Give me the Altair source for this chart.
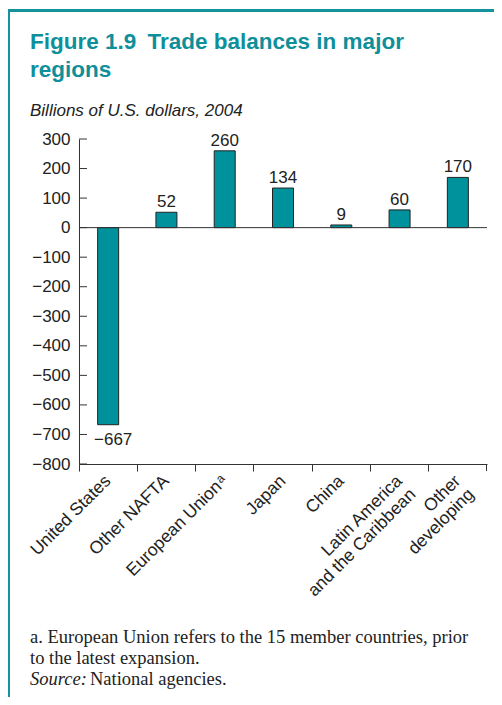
import altair as alt
import pandas as pd

categories = ["United States", "Other NAFTA", "European Union\u200a\u1d43", "Japan", "China",
              "Latin America\nand the Caribbean", "Other\ndeveloping"]
balances = [-667, 52, 260, 134, 9, 60, 170]
labels = ["\u2212667", "52", "260", "134", "9", "60", "170"]
y_ticks = [300, 200, 100, 0, -100, -200, -300, -400, -500, -600, -700, -800]

TEAL = "#00929c"
W, H = 408, 325

df = pd.DataFrame({"region": categories, "value": balances, "label": labels})

xaxis = alt.Axis(title=None, bandPosition=0, labelAngle=-45, labelAlign="right",
                 labelBaseline="middle", labelFontSize=17.5, labelFont="Liberation Sans",
                 labelColor="#222", labelPadding=7, tickSize=7, tickColor="#333",
                 domainColor="#333", labelExpr="split(datum.label, '\\n')",
                 labelLineHeight=19, labelOverlap=False, grid=False)
xscale = alt.Scale(paddingInner=0, paddingOuter=0)
yscale = alt.Scale(domain=[-800, 300], nice=False, zero=False)
yaxis = alt.Axis(title=None, values=y_ticks, ticks=False, tickSize=0, labelPadding=9,
                 labelFontSize=17, labelFont="Liberation Sans", labelColor="#222",
                 labelOverlap=False, domainColor="#333", grid=False)

def X(f): return alt.X(f, sort=None, scale=xscale, axis=xaxis)
def Y(f): return alt.Y(f, scale=yscale, axis=yaxis)

bars = alt.Chart(df).mark_bar(width=21, color=TEAL, stroke="#222", strokeWidth=1).encode(
    x=X("region:N"), y=Y("value:Q"), y2=alt.datum(0))

pos_text = alt.Chart(df).transform_filter("datum.value >= 0").mark_text(
    baseline="alphabetic", dy=-5, fontSize=17, font="Liberation Sans", color="#222").encode(
    x=X("region:N"), y=Y("value:Q"), text="label:N")
neg_text = alt.Chart(df).transform_filter("datum.value < 0").mark_text(
    baseline="top", dy=7, dx=5, fontSize=17, font="Liberation Sans", color="#222").encode(
    x=X("region:N"), y=Y("value:Q"), text="label:N")

zero = alt.Chart(pd.DataFrame({"value": [0]})).mark_rule(color="#333", strokeWidth=1).encode(
    y=Y("value:Q"))

yt = alt.Chart(pd.DataFrame({"value": y_ticks})).mark_rule(color="#333", strokeWidth=1).encode(
    y=Y("value:Q"), x=alt.value(0), x2=alt.value(8))

end_tick = alt.Chart(pd.DataFrame({"a": [0]})).mark_rule(color="#333", strokeWidth=1).encode(
    x=alt.value(W - 0.5), y=alt.value(H), y2=alt.value(H + 7))

def txt(s, x, y, size, font="Liberation Sans", color="#222", weight="normal", style="normal"):
    return alt.Chart(pd.DataFrame({"s": [s]})).mark_text(
        align="left", baseline="alphabetic", fontSize=size, font=font, color=color,
        fontWeight=weight, fontStyle=style).encode(
        x=alt.value(x), y=alt.value(y), text="s:N")

OX, OY = 79, 139  # page position of plot origin
def px(x): return x - OX
def py(y): return y - OY

title1 = txt("Figure 1.9\u2002Trade balances in major", px(30), py(49), 22.5, color="#0e8f9a", weight="bold")
title2 = txt("regions", px(30), py(77), 22.5, color="#0e8f9a", weight="bold")
subtitle = txt("Billions of U.S. dollars, 2004", px(30), py(116), 17, style="italic")
foot1 = txt("a. European Union refers to the 15 member countries, prior", px(30), py(643), 18.5,
            font="Liberation Serif")
foot2 = txt("to the latest expansion.", px(30), py(664), 18.5, font="Liberation Serif")
foot3a = txt("Source:", px(30), py(685), 18.5, font="Liberation Serif", style="italic")
foot3b = txt("National agencies.", px(90), py(685), 18.5, font="Liberation Serif")

frame_top = alt.Chart(pd.DataFrame({"a": [0]})).mark_rule(color="#14939d", strokeWidth=3).encode(
    x=alt.value(px(6)), x2=alt.value(px(502)), y=alt.value(py(10.5)))
frame_left = alt.Chart(pd.DataFrame({"a": [0]})).mark_rule(color="#14939d", strokeWidth=3).encode(
    x=alt.value(px(8.5)), y=alt.value(py(9)), y2=alt.value(py(705)))

chart = alt.layer(
    bars, frame_top, frame_left, zero, yt, end_tick, pos_text, neg_text,
    title1, title2, subtitle, foot1, foot2, foot3a, foot3b
).properties(
    width=W, height=H,
    padding={"left": OX - 8, "top": OY - 8, "right": 486 - (OX - 8) - W, "bottom": 689 - (OY - 8) - H},
    autosize=alt.AutoSizeParams(type="none"),
    background="white"
).configure_view(stroke=None)

chart.save("out.html", embed_options={"renderer": "svg", "actions": False})
